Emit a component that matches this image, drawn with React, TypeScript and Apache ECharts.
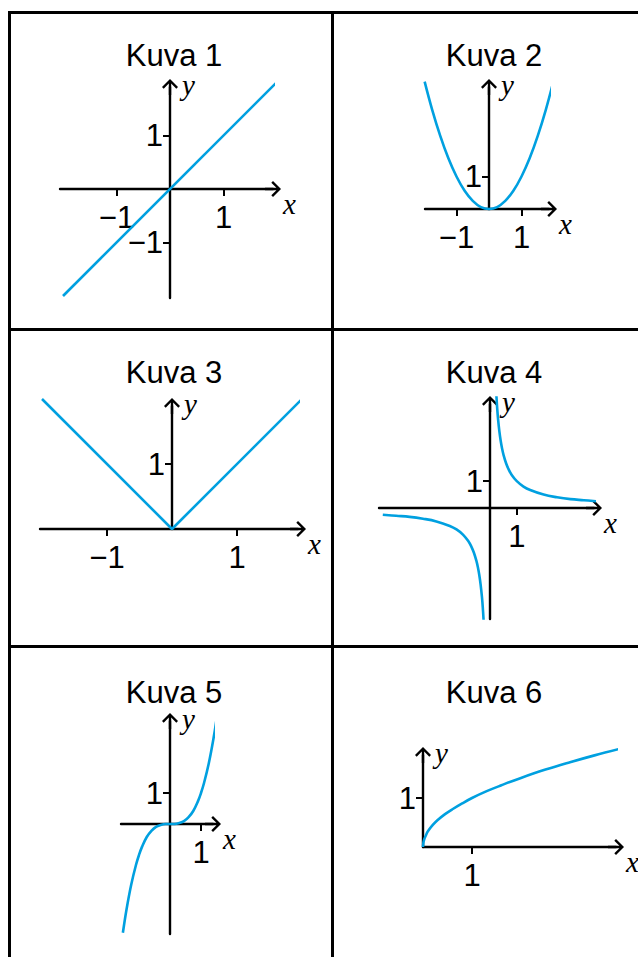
import React, { useEffect, useRef } from "react";
import * as echarts from "echarts";

// ---------- data ----------
const titles = ["Kuva 1", "Kuva 2", "Kuva 3", "Kuva 4", "Kuva 5", "Kuva 6"];

const kuva1Line = [
  [-2, -2],
  [2, 2],
];
const kuva2Parabola = [
  [-1.98, 3.92], [-1.75, 3.06], [-1.5, 2.25], [-1.25, 1.56], [-1, 1], [-0.75, 0.56],
  [-0.5, 0.25], [-0.25, 0.06], [0, 0], [0.25, 0.06], [0.5, 0.25], [0.75, 0.56],
  [1, 1], [1.25, 1.56], [1.5, 2.25], [1.75, 3.06], [1.98, 3.92],
];
const kuva3Abs = [
  [-2, 2],
  [0, 0],
  [2, 2],
];
const kuva4Right = [
  [0.24, 4.17], [0.27, 3.7], [0.3, 3.33], [0.35, 2.86], [0.4, 2.5], [0.45, 2.22],
  [0.5, 2], [0.6, 1.67], [0.7, 1.43], [0.8, 1.25], [1, 1], [1.25, 0.8], [1.5, 0.67],
  [2, 0.5], [2.5, 0.4], [3, 0.33], [3.5, 0.29], [4, 0.25],
];
const kuva4Left = [
  [-4, -0.25], [-3.5, -0.29], [-3, -0.33], [-2.5, -0.4], [-2, -0.5], [-1.5, -0.67],
  [-1.25, -0.8], [-1, -1], [-0.8, -1.25], [-0.7, -1.43], [-0.6, -1.67], [-0.5, -2],
  [-0.45, -2.22], [-0.4, -2.5], [-0.35, -2.86], [-0.3, -3.33], [-0.27, -3.7], [-0.24, -4.17],
];
const kuva5Cubic = [
  [-1.52, -3.51], [-1.4, -2.74], [-1.25, -1.95], [-1.1, -1.33], [-1, -1], [-0.9, -0.73],
  [-0.75, -0.42], [-0.6, -0.22], [-0.45, -0.09], [-0.3, -0.03], [-0.15, 0], [0, 0],
  [0.15, 0], [0.3, 0.03], [0.45, 0.09], [0.6, 0.22], [0.75, 0.42], [0.9, 0.73],
  [1, 1], [1.1, 1.33], [1.25, 1.95], [1.4, 2.74], [1.52, 3.51],
];
const kuva6Sqrt = [
  [0, 0], [0.01, 0.1], [0.03, 0.17], [0.06, 0.24], [0.1, 0.32], [0.2, 0.45], [0.3, 0.55],
  [0.45, 0.67], [0.6, 0.77], [0.8, 0.89], [1, 1], [1.3, 1.14], [1.6, 1.26], [2, 1.41],
  [2.5, 1.58], [3, 1.73], [3.5, 1.87], [4, 2],
];

const xTicks = [[-1, 1], [-1, 1], [-1, 1], [1], [1], [1]];
const yTicks = [[-1, 1], [1], [1], [1], [1], [1]];

const curves = [
  { panel: 0, data: kuva1Line, smooth: false },
  { panel: 1, data: kuva2Parabola, smooth: true },
  { panel: 2, data: kuva3Abs, smooth: false },
  { panel: 3, data: kuva4Right, smooth: true },
  { panel: 3, data: kuva4Left, smooth: true },
  { panel: 4, data: kuva5Cubic, smooth: true },
  { panel: 5, data: kuva6Sqrt, smooth: true },
];

// ---------- layout (pixels) ----------
// ox, oy: origin; u: pixels per unit; xL: left end of x axis; xTip: arrow tip;
// yB: bottom end of y axis; yTip: arrow tip; tx, ty: title centre
const panels = [
  { ox: 170, oy: 189, u: 53.5, xL: 60, xTip: 281, yB: 298, yTip: 79, tx: 174, ty: 55 },
  { ox: 489, oy: 209, u: 32.5, xL: 425, xTip: 557, yB: 209, yTip: 79, tx: 494, ty: 55 },
  { ox: 172, oy: 529, u: 65, xL: 40, xTip: 306, yB: 529, yTip: 398, tx: 174, ty: 372 },
  { ox: 490, oy: 508, u: 26.8, xL: 379, xTip: 602, yB: 619, yTip: 396, tx: 494, ty: 372 },
  { ox: 170, oy: 824, u: 31, xL: 121, xTip: 221, yB: 934, yTip: 713, tx: 174, ty: 692 },
  { ox: 423, oy: 847, u: 49, xL: 423, xTip: 624, yB: 847, yTip: 747, tx: 494, ty: 692 },
];

const BLUE = "#00a0e0";
const SANS = "'Liberation Sans', Arial, Helvetica, sans-serif";
const SERIF = "'Liberation Serif', 'Times New Roman', serif";
const ARROW_HALF = 8;
const ARROW_PATH =
  "path://M8,0 L16,8 L14.3,9.7 L9.2,4.6 L9.2,16 L6.8,16 L6.8,4.6 L1.7,9.7 L0,8 Z";

const fmt = (v: number) => (v < 0 ? "\u2212" + Math.abs(v) : String(v));

function buildOption() {
  const grid: any[] = [];
  const xAxis: any[] = [];
  const yAxis: any[] = [];
  panels.forEach((p, i) => {
    const left = p.xL;
    const right = p.xTip - ARROW_HALF;
    const top = p.yTip + ARROW_HALF;
    const bottom = p.yB;
    grid.push({
      left,
      top,
      width: right - left,
      height: bottom - top,
      containLabel: false,
      outerBoundsMode: "none",
    });
    const axisLine = {
      show: true,
      onZero: false,
      symbol: ["none", ARROW_PATH],
      symbolSize: [16, 16],
      lineStyle: { color: "#000", width: 2.4 },
    };
    xAxis.push({
      type: "value",
      gridIndex: i,
      position: "bottom",
      offset: p.oy - bottom,
      min: (left - p.ox) / p.u,
      max: (right - p.ox) / p.u,
      axisLine,
      axisTick: {
        show: true,
        customValues: xTicks[i],
        length: 7,
        lineStyle: { color: "#000", width: 2 },
      },
      axisLabel: {
        show: true,
        customValues: xTicks[i],
        formatter: fmt,
        margin: 13,
        color: "#000",
        fontFamily: SANS,
        fontSize: 31,
        lineHeight: 31,
      },
      splitLine: { show: false },
      name: "x",
      nameLocation: "end",
      nameGap: 10,
      nameMoveOverlap: false,
      nameTextStyle: {
        fontFamily: SERIF,
        fontStyle: "italic",
        fontSize: 29,
        lineHeight: 29,
        color: "#000",
        align: "left",
        verticalAlign: "top",
      },
    });
    yAxis.push({
      type: "value",
      gridIndex: i,
      position: "left",
      offset: left - p.ox,
      min: (p.oy - bottom) / p.u,
      max: (p.oy - top) / p.u,
      axisLine,
      axisTick: {
        show: true,
        customValues: yTicks[i],
        length: 7,
        lineStyle: { color: "#000", width: 2 },
      },
      axisLabel: {
        show: true,
        customValues: yTicks[i],
        formatter: fmt,
        margin: 7,
        color: "#000",
        fontFamily: SANS,
        fontSize: 31,
        lineHeight: 26,
      },
      splitLine: { show: false },
      name: "y",
      nameLocation: "end",
      nameGap: 2,
      nameMoveOverlap: false,
      nameTextStyle: {
        fontFamily: SERIF,
        fontStyle: "italic",
        fontSize: 29,
        lineHeight: 18,
        color: "#000",
        align: "left",
        verticalAlign: "middle",
        padding: [0, 0, 0, 12],
      },
    });
  });

  const series = curves.map((c) => ({
    type: "line",
    xAxisIndex: c.panel,
    yAxisIndex: c.panel,
    data: c.data,
    showSymbol: false,
    symbol: "none",
    smooth: c.smooth ? 0.4 : false,
    clip: false,
    silent: true,
    z: 1,
    lineStyle: { color: BLUE, width: 2.6 },
  }));

  const frame = [
    { x1: 9.5, y1: 11, x2: 9.5, y2: 957 },
    { x1: 332.5, y1: 11, x2: 332.5, y2: 957 },
    { x1: 8, y1: 12.5, x2: 638, y2: 12.5 },
    { x1: 8, y1: 329.5, x2: 638, y2: 329.5 },
    { x1: 8, y1: 646.5, x2: 638, y2: 646.5 },
  ].map((s) => ({
    type: "line",
    shape: s,
    silent: true,
    style: { stroke: "#000", lineWidth: 3 },
  }));

  const titleEls = panels.map((p, i) => ({
    type: "text",
    x: p.tx,
    y: p.ty,
    silent: true,
    style: {
      text: titles[i],
      fill: "#000",
      font: `31px ${SANS}`,
      fontFamily: SANS,
      fontSize: 31,
      lineHeight: 20,
      align: "center",
      verticalAlign: "middle",
      textAlign: "center",
      textVerticalAlign: "middle",
    },
  }));

  return {
    animation: false,
    backgroundColor: "#fff",
    tooltip: { show: false },
    grid,
    xAxis,
    yAxis,
    series,
    graphic: [...frame, ...titleEls],
  };
}

export default function App() {
  const ref = useRef<HTMLDivElement>(null);
  useEffect(() => {
    if (!ref.current) return;
    const chart = echarts.init(ref.current, null, { renderer: "svg" });
    chart.setOption(buildOption() as any);
    return () => chart.dispose();
  }, []);
  return (
    <div
      ref={ref}
      style={{ position: "absolute", left: 0, top: 0, width: 638, height: 957 }}
    />
  );
}
